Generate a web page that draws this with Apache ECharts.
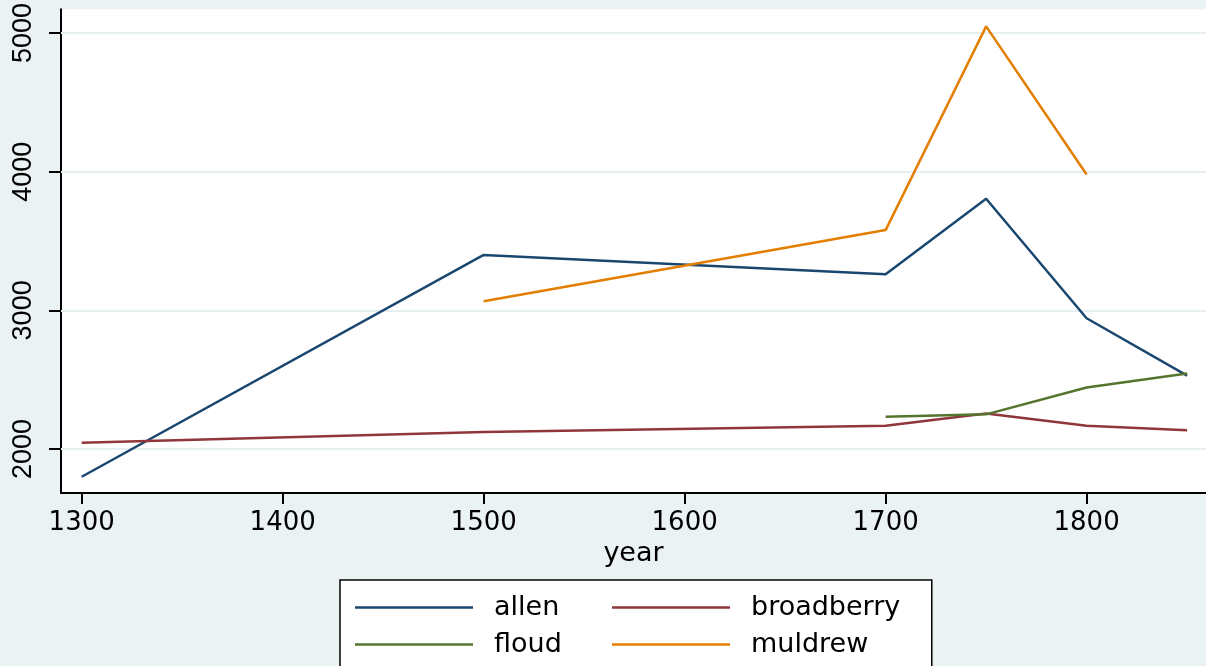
<!DOCTYPE html>
<html>
<head>
<meta charset="utf-8">
<style>
  html, body { margin: 0; padding: 0; background: #eaf2f3; }
  #chart { width: 1206px; height: 666px; }
</style>
<script src="https://cdn.jsdelivr.net/npm/echarts@6/dist/echarts.min.js"></script>
</head>
<body>
<div id="chart"></div>
<script>
// 数据
const allenYears = [1300, 1500, 1700, 1750, 1800, 1850];
const allenVals = [1800, 3400, 3260, 3805, 2943, 2530];
const broadberryYears = [1300, 1500, 1700, 1750, 1800, 1850];
const broadberryVals = [2045, 2122, 2168, 2257, 2168, 2135];
const floudYears = [1700, 1750, 1800, 1850];
const floudVals = [2233, 2250, 2444, 2545];
const muldrewYears = [1500, 1700, 1750, 1800];
const muldrewVals = [3066, 3579, 5048, 3980];
// 刻度
const xTicks = [1300, 1400, 1500, 1600, 1700, 1800];
const yTicks = [2000, 3000, 4000, 5000];

const pairs = (xs, ys) => xs.map((x, i) => [x, ys[i]]);

const myChart = echarts.init(document.getElementById("chart"));

function lineSeries(name, xs, ys, color) {
  return {
    name: name,
    type: "line",
    data: pairs(xs, ys),
    symbol: "none",
    lineStyle: { color: color, width: 2.5 },
    itemStyle: { color: color },
    z: 3,
  };
}

// 图例公共样式（横向 + 窄宽度，每行一项）
const legendBase = {
  orient: "horizontal",
  icon: "rect",
  itemWidth: 118,
  itemHeight: 2.5,
  itemGap: 10,
  textStyle: { color: "#000", fontSize: 27, fontFamily: "DejaVu Sans", padding: [0, 0, 0, 16] },
};

const option = {
  backgroundColor: "#eaf2f3",
  animation: false,
  grid: {
    left: 61,
    top: 9,
    right: 0,
    bottom: 173,
    show: true,
    backgroundColor: "#fff",
    borderWidth: 0,
  },
  xAxis: {
    type: "value",
    min: 1289.7,
    max: 1859.4,
    name: "year",
    nameLocation: "middle",
    nameGap: 43,
    nameTextStyle: { color: "#000", fontSize: 27, fontFamily: "DejaVu Sans" },
    axisLine: { show: true, lineStyle: { color: "#000", width: 2 } },
    axisTick: { show: true, length: 11, customValues: xTicks, lineStyle: { color: "#000", width: 2 } },
    axisLabel: {
      customValues: xTicks,
      formatter: (v) => String(v),
      color: "#000",
      fontSize: 26,
      fontFamily: "DejaVu Sans",
      margin: 17,
    },
    splitLine: { show: false },
  },
  yAxis: {
    type: "value",
    min: 1683,
    max: 5171,
    axisLine: { show: true, lineStyle: { color: "#000", width: 2 } },
    axisTick: { show: true, length: 12, customValues: yTicks, lineStyle: { color: "#000", width: 2 } },
    axisLabel: {
      customValues: yTicks,
      formatter: (v) => String(v),
      rotate: 90,
      color: "#000",
      fontSize: 27,
      fontFamily: "Liberation Sans",
      margin: 24,
    },
    splitLine: { show: false },
  },
  legend: [
    Object.assign({}, legendBase, {
      left: 340,
      top: 580,
      width: 215,
      padding: [14, 370, 30, 15],
      backgroundColor: "#fff",
      borderColor: "#000",
      borderWidth: 1.5,
      data: ["allen", "floud"],
    }),
    Object.assign({}, legendBase, {
      left: 612,
      top: 594,
      width: 300,
      padding: 0,
      z: 5,
      data: ["broadberry", "muldrew"],
    }),
  ],
  series: [
    {
      // 横向网格线
      type: "line",
      data: [],
      silent: true,
      z: 0,
      markLine: {
        silent: true,
        z: 1,
        symbol: "none",
        label: { show: false },
        lineStyle: { color: "#e6eef0", width: 2, type: "solid" },
        data: yTicks.map((v) => ({ yAxis: v })),
      },
    },
    lineSeries("allen", allenYears, allenVals, "#1a476f"),
    lineSeries("broadberry", broadberryYears, broadberryVals, "#90353b"),
    lineSeries("floud", floudYears, floudVals, "#55752f"),
    lineSeries("muldrew", muldrewYears, muldrewVals, "#e37e00"),
  ],
};

myChart.setOption(option);
</script>
</body>
</html>
